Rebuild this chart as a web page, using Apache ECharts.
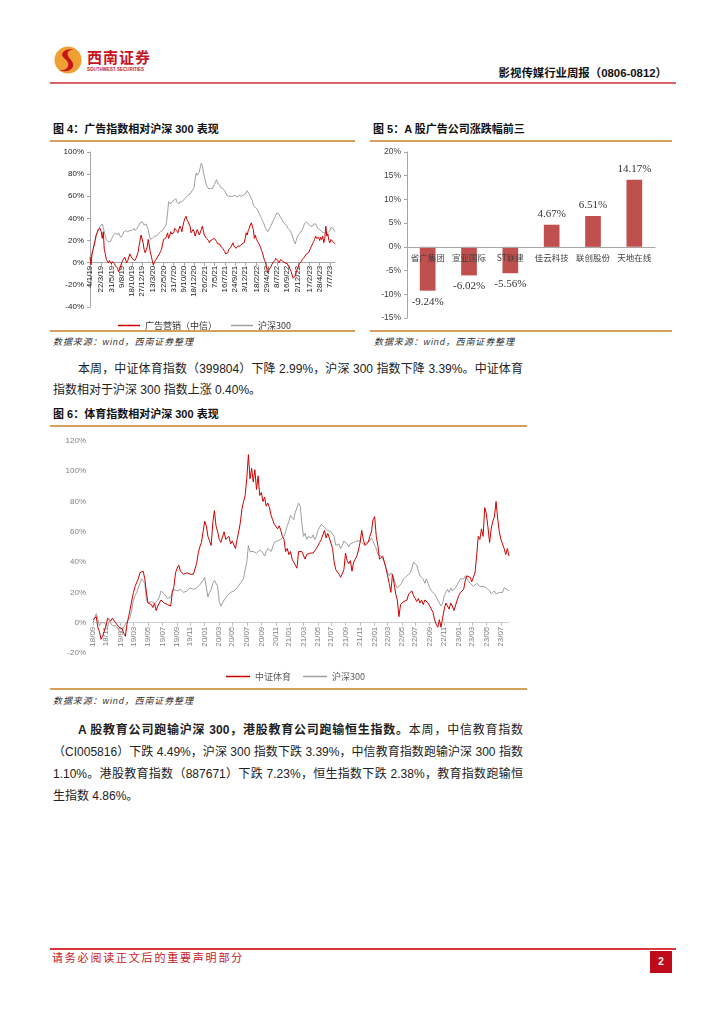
<!DOCTYPE html>
<html><head><meta charset="utf-8">
<script src="https://cdn.jsdelivr.net/npm/echarts/dist/echarts.min.js"></script>
<style>
body{margin:0;background:#fff;width:724px;height:1024px;position:relative;overflow:hidden;font-family:"Liberation Sans","Noto Sans CJK SC",sans-serif;color:#222;}
.a{position:absolute;white-space:nowrap;}
.ttl{font-size:11px;font-weight:bold;color:#111;line-height:14px;}
.src{font-size:9px;font-style:italic;color:#333;line-height:12px;letter-spacing:0.9px;}
.hl{position:absolute;height:1.5px;background:#D4A05A;}
.body{font-size:12px;line-height:16px;color:#222;}
.j{text-align:justify;text-align-last:justify;}
</style></head><body>
<!-- header -->
<svg class="a" style="left:53px;top:44px" width="30" height="32" viewBox="0 0 30 32">
  <circle cx="15" cy="16" r="13.5" fill="#F0A030"/>
  <path d="M22 6 C12 3 5 10 12 15 C19 20 14 28 6 26 C14 30 25 24 18 16 C11 9 16 5 22 6Z" fill="#C8141E"/>
</svg>
<div class="a" style="left:87px;top:49px;font-size:15px;font-weight:bold;color:#C8141E;letter-spacing:1px;line-height:17px;">西南证券</div>
<div class="a" style="left:87px;top:67px;font-size:4.5px;font-weight:bold;color:#C8141E;line-height:6px;">SOUTHWEST SECURITIES</div>
<div class="a" style="right:57px;top:65px;font-size:11.4px;font-weight:bold;color:#111;line-height:16px;">影视传媒行业周报（0806-0812）</div>
<div class="a" style="left:50px;top:82px;width:626px;height:2px;background:#D9636B;"></div>

<!-- fig 4 / fig 5 -->
<div class="a ttl" style="left:53px;top:122px;">图 4：广告指数相对沪深 300 表现</div>
<div class="hl" style="left:50px;top:140px;width:305px;"></div>
<div class="hl" style="left:50px;top:330px;width:305px;"></div>
<div class="a src" style="left:53px;top:336px;">数据来源：wind，西南证券整理</div>
<div class="a ttl" style="left:373px;top:122px;">图 5：A 股广告公司涨跌幅前三</div>
<div class="hl" style="left:370px;top:140px;width:302px;"></div>
<div class="hl" style="left:370px;top:330px;width:302px;"></div>
<div class="a src" style="left:374px;top:336px;">数据来源：wind，西南证券整理</div>
<div id="c4" class="a" style="left:50px;top:143px;width:305px;height:187px;"></div>
<div id="c5" class="a" style="left:370px;top:143px;width:302px;height:187px;"></div>

<div class="a body j" style="left:78px;top:361px;width:445px;">本周，中证体育指数（399804）下降 2.99%，沪深 300 指数下降 3.39%。中证体育</div>
<div class="a body" style="left:53px;top:382px;">指数相对于沪深 300 指数上涨 0.40%。</div>

<!-- fig 6 -->
<div class="a ttl" style="left:53px;top:407px;">图 6：体育指数相对沪深 300 表现</div>
<div class="hl" style="left:50px;top:425px;width:477px;"></div>
<div id="c6" class="a" style="left:50px;top:432px;width:477px;height:255px;"></div>
<div class="hl" style="left:50px;top:688px;width:477px;"></div>
<div class="a src" style="left:53px;top:695px;">数据来源：wind，西南证券整理</div>

<div class="a body j" style="left:78px;top:722px;width:445px;"><b>A 股教育公司跑输沪深 300，港股教育公司跑输恒生指数。</b>本周，中信教育指数</div>
<div class="a body j" style="left:53px;top:744px;width:470px;">（CI005816）下跌 4.49%，沪深 300 指数下跌 3.39%，中信教育指数跑输沪深 300 指数</div>
<div class="a body j" style="left:53px;top:766px;width:470px;">1.10%。港股教育指数（887671）下跌 7.23%，恒生指数下跌 2.38%，教育指数跑输恒</div>
<div class="a body" style="left:53px;top:788px;">生指数 4.86%。</div>

<!-- footer -->
<div class="a" style="left:50px;top:948px;width:626px;height:1.5px;background:#D9363E;"></div>
<div class="a" style="left:52px;top:951px;font-size:11px;color:#C8141E;line-height:15px;letter-spacing:1.8px;">请务必阅读正文后的重要声明部分</div>
<div class="a" style="left:650px;top:951px;width:22px;height:22px;background:#C00A1C;color:#fff;font-size:10px;font-weight:bold;text-align:center;line-height:22px;">2</div>

<script>
// ---------- Fig 4 data (weekly, from 4/1/19) ----------
const ticks4 = ['4/1/19','22/3/19','31/5/19','9/8/19','18/10/19','27/12/19','13/3/20','22/5/20','31/7/20','9/10/20','18/12/20','26/2/21','7/5/21','16/7/21','24/9/21','3/12/21','18/2/22','29/4/22','8/7/22','16/9/22','2/12/22','17/2/23','28/4/23','7/7/23'];
const legend4 = ['广告营销（中信）','沪深300'];
const ad4 = [5,-2,8,12,16,20,25,27,30,29,31,
 28,22,28,12,8,3,4,0,2,3,
 -1,1,2,-1,-3,-4,-5,-8,-6,-3,
 0,2,3,5,6,0,2,3,8,6,
 5,3,4,2,4,5,9,15,20,25,
 25,18,12,9,10,14,21,16,10,6,
 2,-2,0,2,3,5,6,8,10,12,
 16,21,20,22,24,27,22,24,28,26,
 25,27,31,30,29,27,30,33,31,28,
 33,37,40,42,39,37,36,33,27,28,
 30,28,24,27,30,28,25,27,30,33,
 29,25,24,22,23,20,18,20,19,21,
 20,22,21,19,17,16,17,15,14,13,
 12,10,8,7,9,12,11,14,16,18,
 15,14,13,14,15,14,15,16,17,16,
 18,22,27,25,29,31,34,36,33,30,
 22,25,21,20,18,16,14,11,9,5,
 2,0,-5,-9,-7,-6,-4,-2,0,0,
 2,4,4,2,0,0,3,2,1,0,
 0,1,-1,-2,-3,-6,-8,-11,-14,-15,
 -12,-9,-6,-4,-1,-2,1,3,3,5,
 6,8,7,9,10,13,15,17,19,21,
 24,22,22,23,20,23,21,24,18,22,
 33,24,26,20,18,21,22,19,20,17];
const hs4 = [3,5,8,12,15,20,24,27,29,31,33,
 34,35,32,28,24,21,20,19,18,19,
 21,23,25,24,27,26,25,27,26,23,
 22,25,28,27,29,30,28,27,29,30,
 29,30,31,29,30,31,32,34,36,35,
 37,36,34,33,35,36,30,25,21,22,
 22,23,24,23,24,25,26,27,28,28,
 29,31,30,33,37,45,55,54,53,55,
 54,56,57,58,55,54,53,55,54,55,
 56,57,58,59,60,61,61,62,63,65,
 66,68,76,81,79,80,82,86,90,88,
 82,78,74,70,69,67,66,67,68,67,
 68,71,73,75,72,71,70,68,69,67,
 67,65,63,61,61,60,59,60,61,60,
 61,61,60,59,60,61,61,60,61,61,
 62,62,63,65,64,62,60,59,56,52,
 52,50,49,48,47,44,42,40,38,36,
 35,31,30,28,29,31,33,35,37,39,
 41,43,45,46,44,42,41,39,37,36,
 35,34,33,31,30,29,27,25,22,19,
 17,20,23,25,26,27,28,30,32,35,
 36,37,36,35,34,33,34,33,35,36,
 35,33,31,32,30,29,28,29,27,28,
 27,26,27,28,29,32,33,31,30,28];

// ---------- Fig 5 data ----------
const cats5 = ['省广集团','宣亚国际','ST联建','佳云科技','联创股份','天地在线'];
const vals5 = [-9.24,-6.02,-5.56,4.67,6.51,14.17];

// ---------- Fig 6 data (weekly, from 2018-09-07) ----------
const ticks6 = ['18/09','18/11','19/01','19/03','19/05','19/07','19/09','19/11','20/01','20/03','20/05','20/07','20/09','20/11','21/01','21/03','21/05','21/07','21/09','21/11','22/01','22/03','22/05','22/07','22/09','22/11','23/01','23/03','23/05','23/07'];
const legend6 = ['中证体育','沪深300'];
const sport6 = [2,3,4,-3,-6,-11,-9,-8,-2,3,
 4,1,3,2,0,-1,-3,-4,-4,-7,
 -9,-1,4,9,15,20,24,25,29,33,
 34,34,29,20,13,14,12,10,13,8,
 11,12,15,14,13,13,12,11,11,20,
 24,33,36,38,34,33,32,32,33,32,
 32,31,32,32,39,46,50,53,60,67,
 64,57,54,51,66,74,64,60,55,53,
 54,60,55,56,57,52,54,55,49,55,
 60,66,75,80,84,95,111,95,102,93,
 101,88,97,84,86,80,83,77,79,76,
 71,68,65,66,62,64,61,57,55,47,
 49,45,47,42,40,38,36,47,48,47,
 47,42,45,44,46,45,46,47,49,51,
 53,55,58,61,56,59,56,55,49,40,
 35,34,32,30,29,35,46,41,39,41,
 34,40,39,44,48,53,61,55,51,52,
 53,57,60,68,70,57,51,42,41,44,
 40,36,31,26,20,32,26,19,15,4,
 12,12,14,15,15,19,20,21,18,16,
 14,16,13,15,12,15,16,13,12,9,
 7,2,-1,-3,2,-3,3,9,13,13,
 9,13,11,8,8,15,18,20,19,22,
 28,31,32,30,27,26,33,44,57,55,
 62,57,76,72,63,53,62,67,70,80,
 69,60,55,54,49,45,49,44];
const hs6 = [0,3,6,2,-2,0,1,0,-1,-3,
 1,0,-2,-1,-2,-3,-5,-7,-5,-3,
 -1,0,2,4,9,15,18,20,23,26,
 29,28,26,15,13,14,14,13,13,14,
 15,17,21,20,19,18,16,15,17,20,
 22,21,21,22,22,21,20,21,21,22,
 23,23,22,22,23,24,25,26,28,30,
 29,17,20,22,26,28,29,24,14,11,
 13,15,16,18,19,20,21,21,22,23,
 24,26,27,29,35,40,51,47,46,47,
 47,46,46,48,49,46,44,47,49,48,
 47,50,53,53,54,55,55,56,57,60,
 64,67,71,70,68,73,76,79,77,66,
 57,59,55,57,56,56,58,55,57,61,
 63,65,64,63,62,61,60,60,59,57,
 51,50,52,49,51,54,55,52,50,52,
 53,53,54,54,53,54,53,52,52,53,
 53,54,56,54,51,49,45,44,44,42,
 40,36,33,31,33,31,29,25,23,24,
 25,26,29,30,31,32,33,36,40,39,
 38,34,31,30,29,26,29,26,23,21,
 20,19,18,15,14,11,13,18,20,22,
 20,23,21,22,23,25,27,29,30,29,
 31,29,30,26,25,24,25,26,26,24,
 25,24,24,23,24,21,19,20,21,19,
 20,20,21,20,23,24,22,21];

// weekly date categories
function fridays(y, m, d, n, fmt) {
  const out = []; const t0 = Date.UTC(y, m - 1, d);
  for (let i = 0; i < n; i++) out.push(fmt(new Date(t0 + i * 7 * 864e5)));
  return out;
}
const dates4 = fridays(2019, 1, 4, ad4.length, dt => dt.getUTCDate() + '/' + (dt.getUTCMonth() + 1) + '/' + String(dt.getUTCFullYear()).slice(2));
const dates6 = fridays(2018, 9, 7, sport6.length, dt => dt.toISOString().slice(0, 10));

const RED = '#CC0000', GRAY = '#9E9E9E';
const SANS = 'Liberation Sans', CJK = 'Noto Sans CJK SC';

// place the category axis on the zero line: offset upward from the grid bottom
function zeroOffset(h, top, bottom, min, max) {
  const plotH = h - top - bottom;
  return -plotH * (0 - min) / (max - min);
}

// ---- chart 4 ----
const G4 = { h: 187, top: 9, bottom: 23 }, Y4 = { min: -40, max: 100 };
const show4 = (i, v) => ticks4.indexOf(v) >= 0;
echarts.init(document.getElementById('c4')).setOption({
  animation: false,
  grid: { left: 40, right: 20, top: G4.top, bottom: G4.bottom, containLabel: false, outerBoundsMode: 'none' },
  legend: { data: legend4, left: 63, top: 173, icon: 'rect', itemWidth: 22, itemHeight: 1.5, itemGap: 14,
    textStyle: { fontSize: 9, color: '#333', fontFamily: CJK } },
  xAxis: { type: 'category', data: dates4, boundaryGap: false,
    offset: zeroOffset(G4.h, G4.top, G4.bottom, Y4.min, Y4.max),
    axisLine: { onZero: false, lineStyle: { color: '#A6A6A6' } },
    axisTick: { show: true, interval: show4, length: 3, lineStyle: { color: '#A6A6A6' } },
    axisLabel: { interval: show4, rotate: 90, fontSize: 8, color: '#222', margin: 3, fontFamily: SANS } },
  yAxis: { type: 'value', min: Y4.min, max: Y4.max, interval: 20,
    axisLine: { show: true, lineStyle: { color: '#A6A6A6' } },
    axisTick: { show: true, length: 3, lineStyle: { color: '#A6A6A6' } },
    splitLine: { show: false },
    axisLabel: { formatter: '{value}%', fontSize: 8, color: '#222', margin: 6, fontFamily: SANS } },
  series: [
    { name: legend4[1], type: 'line', data: hs4, symbol: 'none', lineStyle: { color: GRAY, width: 1 }, itemStyle: { color: GRAY } },
    { name: legend4[0], type: 'line', data: ad4, symbol: 'none', lineStyle: { color: RED, width: 1 }, itemStyle: { color: RED } }
  ]
});

// ---- chart 5 ----
const G5 = { h: 187, top: 9, bottom: 12 }, Y5 = { min: -15, max: 20 };
echarts.init(document.getElementById('c5')).setOption({
  animation: false,
  grid: { left: 37, right: 17, top: G5.top, bottom: G5.bottom, containLabel: false, outerBoundsMode: 'none' },
  xAxis: { type: 'category', data: cats5, z: 10,
    offset: zeroOffset(G5.h, G5.top, G5.bottom, Y5.min, Y5.max),
    axisLine: { onZero: false, lineStyle: { color: '#A6A6A6' } },
    axisTick: { show: false },
    axisLabel: { interval: 0, fontSize: 8.5, color: '#404040', margin: 7, fontFamily: CJK } },
  yAxis: { type: 'value', min: Y5.min, max: Y5.max, interval: 5,
    axisLine: { show: true, lineStyle: { color: '#A6A6A6' } },
    axisTick: { show: true, length: 3, lineStyle: { color: '#A6A6A6' } },
    splitLine: { show: false },
    axisLabel: { formatter: '{value}%', fontSize: 8.5, color: '#404040', margin: 6, fontFamily: SANS } },
  series: [{ type: 'bar', barWidth: '38%', itemStyle: { color: '#C0504D' },
    data: vals5.map(v => ({ value: v, label: { position: v < 0 ? 'bottom' : 'top' } })),
    label: { show: true, distance: 5.5, formatter: p => p.value.toFixed(2) + '%', fontFamily: 'Liberation Serif', fontSize: 11, color: '#333' } }]
});

// ---- chart 6 ----
const G6 = { h: 255, top: 9, bottom: 34 }, Y6 = { min: -20, max: 120 };
const fmt6 = v => v.slice(2, 4) + '/' + v.slice(5, 7);
const show6 = (i, v) => (i === 0 || dates6[i - 1].slice(0, 7) !== v.slice(0, 7)) && ticks6.indexOf(fmt6(v)) >= 0;
echarts.init(document.getElementById('c6')).setOption({
  animation: false,
  grid: { left: 43, right: 18, top: G6.top, bottom: G6.bottom, containLabel: false, outerBoundsMode: 'none' },
  legend: { data: legend6, left: 171, top: 235, icon: 'rect', itemWidth: 24, itemHeight: 1.5, itemGap: 12,
    textStyle: { fontSize: 9, color: '#595959', fontFamily: CJK } },
  xAxis: { type: 'category', data: dates6, boundaryGap: false,
    offset: zeroOffset(G6.h, G6.top, G6.bottom, Y6.min, Y6.max),
    axisLine: { onZero: false, lineStyle: { color: '#D0D0D0' } },
    axisTick: { show: true, interval: show6, length: 3, lineStyle: { color: '#BFBFBF' } },
    axisLabel: { interval: show6, formatter: fmt6, rotate: 90, fontSize: 8, color: '#7F7F7F', margin: 4, fontFamily: SANS } },
  yAxis: { type: 'value', min: Y6.min, max: Y6.max, interval: 20,
    axisLine: { show: false }, axisTick: { show: false }, splitLine: { show: false },
    axisLabel: { formatter: '{value}%', fontSize: 8, color: '#7F7F7F', margin: 7, fontFamily: SANS } },
  series: [
    { name: legend6[1], type: 'line', data: hs6, symbol: 'none', lineStyle: { color: GRAY, width: 1 }, itemStyle: { color: GRAY } },
    { name: legend6[0], type: 'line', data: sport6, symbol: 'none', lineStyle: { color: RED, width: 1 }, itemStyle: { color: RED } }
  ]
});
</script>
</body></html>
